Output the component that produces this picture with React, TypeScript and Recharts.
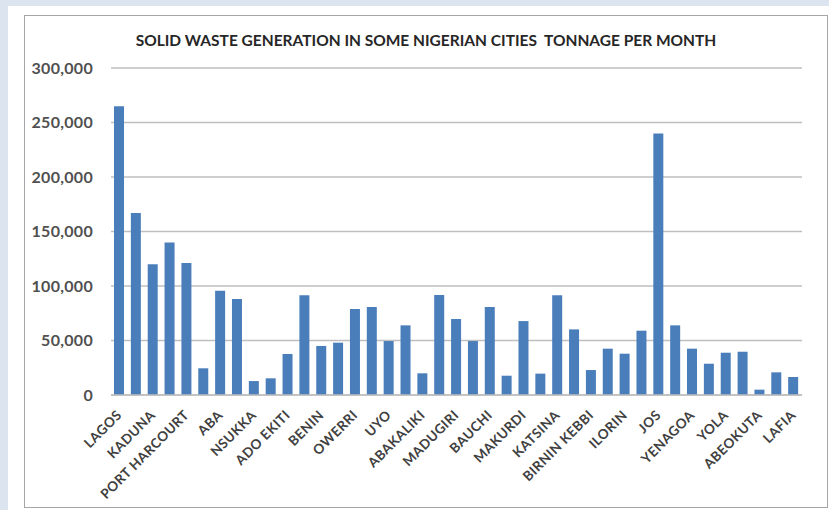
import React from "react";
import { BarChart, Bar, XAxis, YAxis, CartesianGrid } from "recharts";

// every other city is labelled on the axis, as in the source chart
const cities = [
  "LAGOS", "KANO", "KADUNA", "IBADAN", "PORT HARCOURT", "UMUAHIA", "ABA",
  "ONITSHA", "NSUKKA", "AWKA", "ADO EKITI", "ENUGU", "BENIN", "ASABA",
  "OWERRI", "CALABAR", "UYO", "AKURE", "ABAKALIKI", "MAIDUGURI", "MADUGIRI",
  "GOMBE", "BAUCHI", "JALINGO", "MAKURDI", "DUTSE", "KATSINA", "SOKOTO",
  "BIRNIN KEBBI", "GUSAU", "ILORIN", "OSOGBO", "JOS", "MINNA", "YENAGOA",
  "LOKOJA", "YOLA", "DAMATURU", "ABEOKUTA", "IBADAN NORTH", "LAFIA",
];

const tonnage = [
  265000, 167000, 120000, 140000, 121000, 24500, 95700, 88000, 12800, 15300,
  37600, 91400, 45000, 48000, 78900, 80700, 49500, 63900, 19900, 91700,
  69700, 49500, 80700, 17700, 67800, 19600, 91400, 60200, 22900, 42500,
  37900, 59000, 240000, 63900, 42500, 28700, 38800, 39700, 4900, 20800,
  16500,
];

const yTicks = [0, 50000, 100000, 150000, 200000, 250000, 300000];

const data = cities.map((name, i) => ({ name, tonnage: tonnage[i] }));

const font = "Lato, 'Open Sans', sans-serif";

const CityTick = (props: any) => {
  const { x, y, payload } = props;
  return (
    <g transform={`translate(${x + 3},${y + 13})`}>
      <text
        x={0}
        y={0}
        textAnchor="end"
        transform="rotate(-45)"
        fill="#404040"
        fontSize={13.5}
        fontWeight={700}
        letterSpacing={0.4}
        fontFamily={font}
      >
        {payload.value}
      </text>
    </g>
  );
};

const fmt = (v: number) => v.toLocaleString("en-US");

export default function App() {
  return (
    <div
      style={{
        position: "absolute",
        left: 0,
        top: 0,
        width: 829,
        height: 510,
        background: "#dce4f0",
        overflow: "hidden",
      }}
    >
      <div
        style={{
          position: "absolute",
          left: 8,
          top: 6,
          width: 821,
          height: 504,
          background: "#ffffff",
        }}
      />
      <div
        style={{
          position: "absolute",
          left: 24,
          top: 15,
          width: 802,
          height: 491,
          border: "1px solid #a6a6a6",
          background: "#ffffff",
        }}
      >
        <div
          style={{
            position: "absolute",
            left: 0,
            top: 15,
            width: 802,
            textAlign: "center",
            fontFamily: font,
            fontWeight: 700,
            fontSize: 15.5,
            color: "#262626",
            whiteSpace: "pre",
          }}
        >
          {"SOLID WASTE GENERATION IN SOME NIGERIAN CITIES  TONNAGE PER MONTH"}
        </div>
        <BarChart
          width={802}
          height={491}
          data={data}
          margin={{ top: 52, right: 25, left: 0, bottom: 0 }}
        >
          <CartesianGrid vertical={false} stroke="#bfbfbf" strokeWidth={1.5} />
          <XAxis
            dataKey="name"
            interval={1}
            height={112}
            tick={<CityTick />}
            tickLine={false}
            axisLine={{ stroke: "#bfbfbf", strokeWidth: 1.5 }}
          />
          <YAxis
            width={86}
            domain={[0, 300000]}
            ticks={yTicks}
            tickFormatter={fmt}
            axisLine={false}
            tickLine={false}
            tickMargin={12}
            tick={{ fill: "#505050", fontSize: 16, fontWeight: 700, fontFamily: font, letterSpacing: 0.3 }}
          />
          <Bar dataKey="tonnage" fill="#4a7ebb" barSize={10} isAnimationActive={false} />
        </BarChart>
      </div>
    </div>
  );
}
